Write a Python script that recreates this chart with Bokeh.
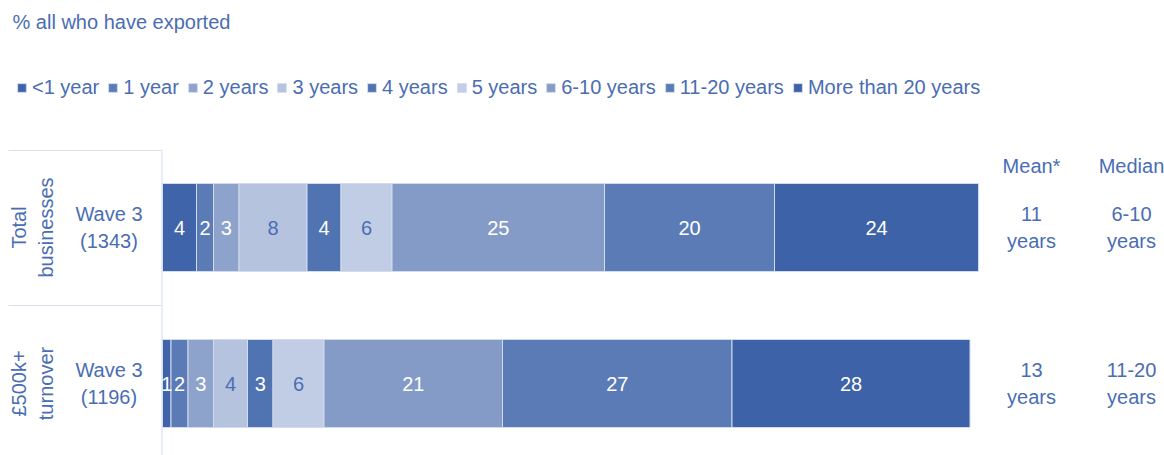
import numpy as np
from bokeh.plotting import figure
from bokeh.models import ColumnDataSource, Range1d, Label, Legend
from bokeh.core.properties import value
from bokeh.embed import file_html
from bokeh.resources import INLINE

# ---- data ----
categories = ["<1 year", "1 year", "2 years", "3 years", "4 years", "5 years",
              "6-10 years", "11-20 years", "More than 20 years"]
total_businesses = [4, 2, 3, 8, 4, 6, 25, 20, 24]
turnover_500k = [1, 2, 3, 4, 3, 6, 21, 27, 28]
group_labels = ["Total\nbusinesses", "£500k+\nturnover"]
wave_labels = ["Wave 3\n(1343)", "Wave 3\n(1196)"]
mean_values = ["11\nyears", "13\nyears"]
median_values = ["6-10\nyears", "11-20\nyears"]

colors = ["#3f64a9", "#5b7bb7", "#8da3cb", "#b5c3df", "#5073b2", "#c1cde4",
          "#849bc7", "#5b7bb6", "#3d62a7"]
label_colors = ["white", "white", "white", "#4a6db3", "white", "#4a6db3",
                "white", "white", "white"]
TXT = "#4a6db3"
FONT = "Liberation Sans"

W, H = 1164, 455
PX = 8.5          # pixels per percentage point
X0 = 162          # pixel x of zero
ROW_STEP = 156    # pixels between rows
ROW0 = 227        # pixel y of first row centre

rows = [0, 1]
data = {"row": rows}
for c, a, b in zip(categories, total_businesses, turnover_500k):
    data[c] = [a, b]
source = ColumnDataSource(data)

p = figure(width=W, height=H, output_backend="svg", toolbar_location=None,
           x_range=Range1d(-X0 / PX, (W - X0) / PX),
           y_range=Range1d((H - ROW0) / ROW_STEP, -ROW0 / ROW_STEP),
           x_axis_location=None, y_axis_location=None, min_border=0)
p.outline_line_color = None
p.xgrid.visible = False
p.ygrid.visible = False

renderers = p.hbar_stack(categories, y="row", height=88 / ROW_STEP, color=colors,
                         line_color="#d3dbee", line_width=1, source=source)

# segment labels
for r, vals in zip(rows, [total_businesses, turnover_500k]):
    v = np.array(vals, dtype=float)
    right = np.cumsum(v)
    centers = right - v / 2
    p.text(x=centers, y=[r] * len(v), text=[str(x) for x in vals],
           text_color=label_colors, text_align="center", text_baseline="middle",
           text_font=value(FONT), text_font_size="20px")

# left table labels
p.text(x=[(32 - X0) / PX] * 2, y=rows, text=group_labels, angle=np.pi / 2,
       text_color=TXT, text_align="center", text_baseline="middle",
       text_font=value(FONT), text_font_size="20px", text_line_height=1.2)
p.text(x=[(108.5 - X0) / PX] * 2, y=rows, text=wave_labels,
       text_color=TXT, text_align="center", text_baseline="middle",
       text_font=value(FONT), text_font_size="20px", text_line_height=1.2)

# right mean / median
mx = (1031 - X0) / PX
dx = (1131 - X0) / PX
p.text(x=[mx] * 2, y=rows, text=mean_values, text_color=TXT, text_align="center",
       text_baseline="middle", text_font=value(FONT), text_font_size="20px",
       text_line_height=1.2)
p.text(x=[dx] * 2, y=rows, text=median_values, text_color=TXT, text_align="center",
       text_baseline="middle", text_font=value(FONT), text_font_size="20px",
       text_line_height=1.2)
hy = (165 - ROW0) / ROW_STEP
p.text(x=[mx, dx], y=[hy, hy], text=["Mean*", "Median"], text_color=TXT,
       text_align="center", text_baseline="middle", text_font=value(FONT),
       text_font_size="20px")

# table lines
yt = (150 - ROW0) / ROW_STEP
ym = (305 - ROW0) / ROW_STEP
xl = (8 - X0) / PX
xv = (161.5 - X0) / PX
yb = (H - ROW0) / ROW_STEP
p.segment(x0=[xl, xl, xv], y0=[yt, ym, yt], x1=[xv, xv, xv], y1=[yt, ym, yb],
          line_color="#dbe1ef", line_width=1.2)

# title
p.add_layout(Label(x=12, y=H - 21, x_units="screen", y_units="screen",
                   text="% all who have exported", text_color=TXT,
                   text_font=FONT, text_font_size="20px", text_baseline="middle"))

legend = Legend(items=[(c, [r]) for c, r in zip(categories, renderers)],
                orientation="horizontal", location=(16, H - 99),
                glyph_width=11, glyph_height=11, label_standoff=5, spacing=8,
                label_text_font=FONT, label_text_font_size="20px",
                label_text_color=TXT, label_height=11,
                padding=0, margin=0, border_line_alpha=0,
                background_fill_alpha=0)
p.add_layout(legend)

open("out.html", "w").write(file_html(p, INLINE))
